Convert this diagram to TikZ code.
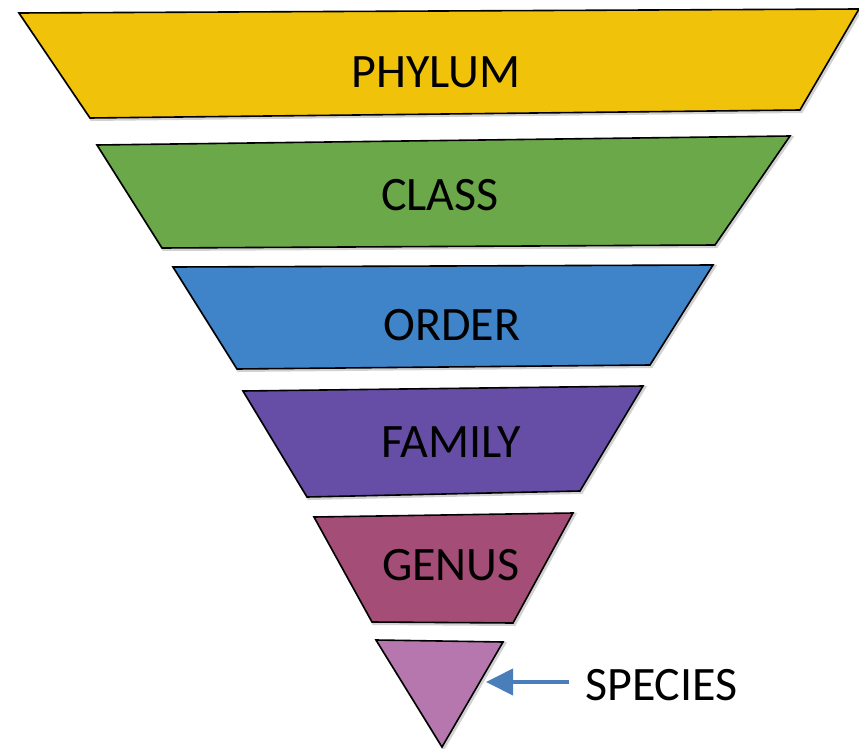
\documentclass[tikz,border=0pt]{standalone}
\usepackage{fontspec}
\setmainfont{Carlito}
\usetikzlibrary{arrows.meta}
\definecolor{cphylum}{HTML}{F0C20A}
\definecolor{cclass}{HTML}{6AA84A}
\definecolor{corder}{HTML}{3F83C9}
\definecolor{cfamily}{HTML}{664EA6}
\definecolor{cgenus}{HTML}{A44D76}
\definecolor{cspecies}{HTML}{B677AE}
\definecolor{carrow}{HTML}{4A7EBB}
\tikzset{
  band/.style={draw=black, line width=1.6pt, line join=miter},
  shade/.style={draw=black!35, line width=3pt, line join=miter, opacity=0.5},
  lbl/.style={font=\fontsize{48}{58}\selectfont, text=black, inner sep=0pt, anchor=base},
  pointer/.style={draw=carrow, line width=4pt, -{Triangle[length=27pt,width=26pt]}}
}
\begin{document}
\begin{tikzpicture}[x=1pt,y=-1pt]
\useasboundingbox (0,0) rectangle (859,749);
% soft shadows
\foreach \pts in {
  {(19,13) -- (859,9) -- (800,110) -- (90,118)},
  {(97,145) -- (790,136) -- (715,245) -- (162,248)},
  {(173,267) -- (713,265) -- (650,365) -- (237,369)},
  {(243,391) -- (643,386) -- (580,491) -- (307,497)},
  {(314,517) -- (573,513) -- (513,623) -- (372,622)},
  {(376,640) -- (503,642) -- (442,747)}}
  {\draw[shade, shift={(1.5,1.5)}] \pts -- cycle;}
% bands
\fill[cphylum]  (19,13) -- (859,9) -- (800,110) -- (90,118) -- cycle;
\draw[band]     (19,13) -- (859,9) -- (800,110) -- (90,118) -- cycle;
\fill[cclass]   (97,145) -- (790,136) -- (715,245) -- (162,248) -- cycle;
\draw[band]     (97,145) -- (790,136) -- (715,245) -- (162,248) -- cycle;
\fill[corder]   (173,267) -- (713,265) -- (650,365) -- (237,369) -- cycle;
\draw[band]     (173,267) -- (713,265) -- (650,365) -- (237,369) -- cycle;
\fill[cfamily]  (243,391) -- (643,386) -- (580,491) -- (307,497) -- cycle;
\draw[band]     (243,391) -- (643,386) -- (580,491) -- (307,497) -- cycle;
\fill[cgenus]   (314,517) -- (573,513) -- (513,623) -- (372,622) -- cycle;
\draw[band]     (314,517) -- (573,513) -- (513,623) -- (372,622) -- cycle;
\fill[cspecies] (376,640) -- (503,642) -- (442,747) -- cycle;
\draw[band]     (376,640) -- (503,642) -- (442,747) -- cycle;
% labels
\node[lbl] (phylum)  at (436,88)  {PHYLUM};
\node[lbl] (class)   at (440,210) {CLASS};
\node[lbl] (order)   at (452,340) {ORDER};
\node[lbl] (family)  at (451,457) {FAMILY};
\node[lbl] (genus)   at (451,580) {GENUS};
\node[lbl, anchor=base west] (species) at (585,700) {SPECIES};
% pointer
\coordinate (tail) at (569,682);
\coordinate (tip)  at (486,682);
\draw[pointer] (tail) -- (tip);
\end{tikzpicture}
\end{document}
